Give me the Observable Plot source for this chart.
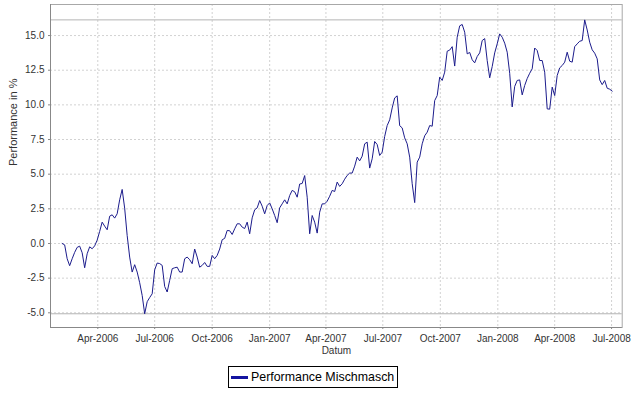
<!DOCTYPE html>
<html><head><meta charset="utf-8">
<script src="https://cdn.jsdelivr.net/npm/d3@7"></script>
<script src="https://cdn.jsdelivr.net/npm/@observablehq/plot@0.6"></script>
<style>
body{margin:0;background:#fff;font-family:"Liberation Sans",Arial,sans-serif;}
#wrap{width:642px;height:396px;position:relative;background:#fff;}
#chart svg{overflow:visible;}
#legend{position:absolute;left:228px;top:366px;width:168px;height:20px;border:1px solid #000;display:flex;align-items:center;box-sizing:content-box;}
#legend .sw{width:17px;height:3px;background:#1414a0;margin-left:2px;margin-right:3px;}
#legend span{font-size:12.4px;color:#000;white-space:nowrap;}
</style></head><body>
<div id="wrap"><div id="chart"></div><div id="legend"><div class="sw"></div><span id="legtext"></span></div></div>
<script>
const seriesName = "Performance Mischmasch";
const xLabel = "Datum";
const yLabel = "Performance in %";
const startDate = "2006-02-03";
const stepDays = 4;
const performance = [
 0.0,-0.1,-1.1,-1.6,-1.1,-0.64,-0.28,-0.19,-0.67,-1.75,
 -0.74,-0.24,-0.38,-0.17,0.24,0.87,1.54,1.25,0.99,1.97,
 2.07,1.83,2.14,3.15,3.9,2.55,0.58,-0.98,-2.06,-1.53,
 -2.06,-2.83,-3.75,-5.07,-4.2,-3.9,-3.63,-1.9,-1.41,-1.45,
 -1.58,-3.1,-3.5,-2.66,-1.82,-1.75,-1.71,-2.06,-2.06,-1.1,
 -0.98,-1.17,-1.46,-0.4,-0.98,-1.71,-1.58,-1.37,-1.65,-1.65,
 -0.86,-1.1,-0.86,-0.4,0.27,0.37,0.94,0.92,0.65,1.06,
 1.42,1.42,1.18,1.08,1.54,0.7,1.85,2.43,2.57,3.1,
 2.69,2.14,2.74,2.93,2.5,2.02,1.5,2.57,2.86,3.15,
 2.86,3.46,3.83,3.73,3.34,4.29,4.33,4.9,3.34,0.7,
 2.02,1.54,0.75,2.26,2.86,2.86,3.05,3.41,3.83,3.75,
 4.43,4.12,4.31,4.64,4.91,5.08,5.08,5.58,6.23,5.96,
 6.3,7.19,7.31,5.44,6.11,7.36,7.14,6.35,6.59,7.72,
 8.51,8.92,9.78,10.5,10.65,8.5,8.34,7.62,7.19,6.23,
 4.31,2.95,5.87,6.23,7.19,7.77,8.03,8.51,8.46,10.31,
 10.67,12.0,11.76,12.36,13.87,13.95,14.2,12.8,14.88,15.7,
 15.8,15.24,13.68,13.78,13.25,13.03,13.49,13.75,14.64,14.78,
 13.2,11.95,12.76,13.75,14.4,15.12,14.88,14.45,13.8,12.28,
 9.85,11.33,11.76,11.8,10.72,11.4,11.9,12.28,12.6,14.1,
 13.92,13.2,13.2,12.36,9.71,9.69,11.28,10.67,12.12,12.67,
 12.84,13.08,13.8,13.15,13.08,14.2,14.4,14.59,14.64,16.13,
 15.4,14.52,13.97,13.73,13.32,11.8,11.46,11.76,11.2,11.13,
 10.99
];
const xTicks = ["2006-04-01","2006-07-01","2006-10-01","2007-01-01","2007-04-01","2007-07-01","2007-10-01","2008-01-01","2008-04-01","2008-07-01"];
const yTicks = [-5,-2.5,0,2.5,5,7.5,10,12.5,15];
const xDomain = ["2006-01-15T08:00:00Z","2008-07-18T00:00:00Z"];
const yDomain = [-6.06, 17.24];

const start = new Date(startDate + "T00:00:00Z");
const data = performance.map((v, i) => ({date: d3.utcDay.offset(start, i * stepDays), value: v}));
const xTickDates = xTicks.map(d => new Date(d + "T00:00:00Z"));
const fmtX = d3.utcFormat("%b-%Y");
const extremes = [d3.min(performance), d3.max(performance)];

const chart = Plot.plot({
  width: 628, height: 362,
  marginLeft: 50, marginRight: 6.3, marginTop: 4, marginBottom: 35,
  style: {fontFamily: '"Liberation Sans", Arial, sans-serif', fontSize: "10px", color: "#333", background: "#fff", overflow: "visible"},
  x: {type: "utc", domain: xDomain.map(d => new Date(d))},
  y: {domain: yDomain},
  marks: [
    Plot.gridX(xTickDates, {stroke: "#d2d2d2", strokeOpacity: 1, strokeDasharray: "2,2"}),
    Plot.gridY(yTicks, {stroke: "#d2d2d2", strokeOpacity: 1, strokeDasharray: "2,2"}),
    Plot.ruleY(extremes, {stroke: "#b4b4b4", strokeWidth: 1}),
    Plot.frame({stroke: "#a8a8a8"}),
    Plot.ruleX([xDomain[0]].map(d => new Date(d)), {stroke: "#888"}),
    Plot.ruleY([yDomain[0]], {stroke: "#888"}),
    Plot.line(data, {x: "date", y: "value", stroke: "#1c1c8c", strokeWidth: 1}),
    Plot.axisX(xTickDates, {tickFormat: fmtX, tickSize: 2, tickPadding: 5, label: null, stroke: "#888", fill: "#333"}),
    Plot.axisY(yTicks, {tickFormat: d => d.toFixed(1), tickSize: 2, tickPadding: 4, label: null, stroke: "#888", fill: "#333"}),
    Plot.text([xLabel], {frameAnchor: "bottom", dy: 26.5, fill: "#333", fontSize: 10}),
    Plot.text([yLabel], {frameAnchor: "left", dx: -37.5, rotate: -90, fill: "#333", fontSize: 11})
  ]
});
document.getElementById("chart").appendChild(chart);
document.getElementById("legtext").textContent = seriesName;
</script>
</body></html>
